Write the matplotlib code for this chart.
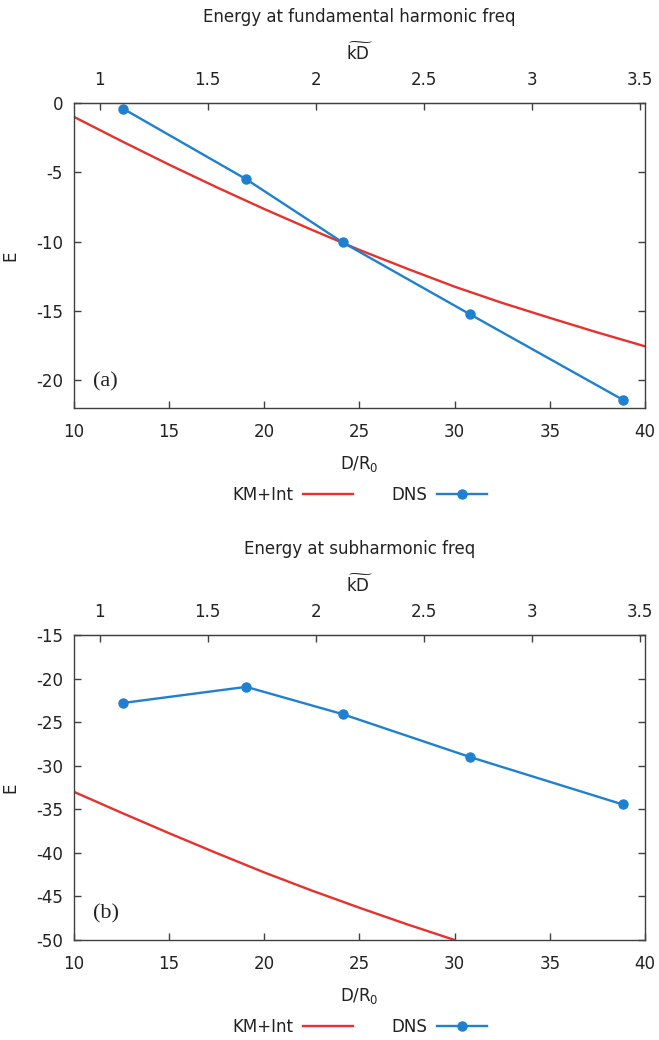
import matplotlib
matplotlib.use("Agg")
import matplotlib.pyplot as plt
import numpy as np

# D/R0 -> k~D conversion used on the top axis
KD_SCALE = 11.35

# KM+Int model curves, sampled along D/R0
km_d = [10, 12.5, 15, 17.5, 20, 22.5, 25, 27.5, 30, 32.5, 35, 37.5, 40]
km_fund = [-1.0, -2.75, -4.45, -6.08, -7.65, -9.15, -10.6, -11.95, -13.25,
           -14.42, -15.5, -16.55, -17.55]
km_sub_d = [10, 12.5, 15, 17.5, 20, 22.5, 25, 27.5, 30]
km_sub = [-33.0, -35.4, -37.75, -40.03, -42.25, -44.33, -46.3, -48.2, -50.0]

# DNS runs
dns_d = [12.57, 19.05, 24.11, 30.79, 38.84]
dns_fund = [-0.4, -5.5, -10.05, -15.23, -21.41]
dns_sub = [-22.8, -20.95, -24.08, -28.99, -34.45]

xticks = [10, 15, 20, 25, 30, 35, 40]
kd_ticks = [1, 1.5, 2, 2.5, 3, 3.5]

RED = "#e8302d"
BLUE = "#1f80d0"
FRAME = "#404040"
TXT = "#222222"

plt.rcParams["font.family"] = "DejaVu Sans"
plt.rcParams["mathtext.fontset"] = "dejavusans"
plt.rcParams["axes.unicode_minus"] = False
plt.rcParams["font.size"] = 12

fig = plt.figure(figsize=(6.59, 10.40), dpi=100)
W, H = 659.0, 1040.0


def panel(top_px, km_x, km_y, dns_y, ylim, yticks, title, tag):
    left, right, bottom = 74, 645, top_px + 305
    ax = fig.add_axes([left / W, 1 - bottom / H, (right - left) / W, 305 / H])
    ax.plot(km_x, km_y, color=RED, lw=1.7, label="KM+Int")
    ax.plot(dns_d, dns_y, color=BLUE, lw=1.7, marker="o", ms=6.5,
            label="DNS")
    ax.set_xlim(10, 40)
    ax.set_ylim(*ylim)
    ax.set_xticks(xticks)
    ax.set_yticks(yticks)
    ax.tick_params(direction="in", length=5, width=1, color=FRAME,
                   labelcolor=TXT, labelsize=12, right=True, top=False)
    ax.tick_params(axis="x", pad=11)
    ax.tick_params(axis="y", pad=8)
    for s in ax.spines.values():
        s.set_color(FRAME)
        s.set_linewidth(1)
    ax.set_xlabel(r"D/R$_0$", color=TXT, labelpad=9)
    ax.set_ylabel("E", color=TXT, labelpad=12)

    top = ax.secondary_xaxis("top", functions=(lambda d: d / KD_SCALE,
                                                lambda k: k * KD_SCALE))
    top.set_xticks(kd_ticks)
    top.set_xticklabels([f"{t:g}" for t in kd_ticks])
    top.tick_params(direction="in", length=5, width=1, color=FRAME,
                    labelcolor=TXT, labelsize=12, pad=10)
    top.spines["top"].set_color(FRAME)
    top.set_xlabel(r"$\widetilde{\mathrm{kD}}$", color=TXT, labelpad=8)
    ax.set_title(title, color=TXT, fontsize=12, pad=58)

    ax.text(0.033, 0.085, tag, transform=ax.transAxes, ha="left",
            va="center", fontsize=16, family="Liberation Serif", color=TXT)

    ax.legend(loc="center", bbox_to_anchor=(0.5, -0.285), ncol=2,
              frameon=False, markerfirst=False, handlelength=3.0,
              handletextpad=0.6, columnspacing=2.3, fontsize=12,
              labelcolor=TXT)
    return ax


panel(103, km_d, km_fund, dns_fund, (-22, 0), [0, -5, -10, -15, -20],
      "Energy at fundamental harmonic freq", "(a)")
panel(635, km_sub_d, km_sub, dns_sub, (-50, -15),
      [-15, -20, -25, -30, -35, -40, -45, -50],
      "Energy at subharmonic freq", "(b)")

fig.savefig("out.png", dpi=100)
